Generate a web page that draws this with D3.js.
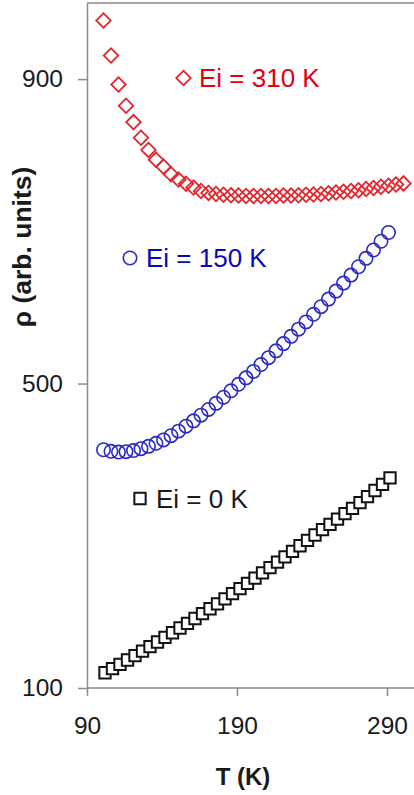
<!DOCTYPE html>
<html>
<head>
<meta charset="utf-8">
<script src="https://cdn.jsdelivr.net/npm/d3@7/dist/d3.min.js"></script>
<style>
  html, body { margin: 0; padding: 0; background: #fff; }
  svg { display: block; }
  text { font-family: Arial, "Liberation Sans", sans-serif; }
</style>
</head>
<body>
<svg id="chart" width="414" height="795"></svg>
<script>
// ---- data ----
const xTicks = [90, 190, 290];
const yTicks = [100, 500, 900];

const tRed = [101,106,111,116,121,126,131,136,141,146,151,156,161,166,171,176,181,186,191,196,201,206,211,216,221,226,231,236,241,246,251,256,261,266,271,276,281,286,291,296,301];
const rhoRed = [977,931,893,865,843.5,823,807,794,785,775,768,762.5,757.5,753,750.5,749,748,747.5,747,746.5,746.5,746.5,746.5,746.5,747,747,747.5,748,748.5,749,750,751,752,753,754,755.5,757,758.5,760,761.5,763];

const tBlue = [101,106,111,116,121,126,131,136,141,146,151,156,161,166,171,176,181,186,191,196,201,206,211,216,221,226,231,236,241,246,251,256,261,266,271,276,281,286,291];
const rhoBlue = [413,411,410,410.5,412,414.5,417.5,421.5,426,431.5,437.5,444,451,458.5,466,474,482,490.5,499,507.5,516,525,534,543,552.5,562,571.5,581,591,601,611,621.5,632,642.5,653.5,664.5,675.5,687,698.5];

const tBlack = [102,107,112,117,122,127,132,137,142,147,152,157,162,167,172,177,182,187,192,197,202,207,212,217,222,227,232,237,242,247,252,257,262,267,272,277,282,287,292];
const rhoBlack = [120,125.5,131,136.8,142.6,148.5,154.4,160.4,166.5,172.6,178.8,185,191.3,197.7,204.1,210.6,217.2,223.9,230.6,237.4,244.3,251.2,258.2,265.3,272.4,279.6,286.9,294,301,308,315,322,329,336,343.5,351.5,359.5,367.5,376];

const legendLabels = ["Ei = 310 K", "Ei = 150 K", "Ei = 0 K"];
const xTitle = "T (K)";
const yTitle = "ρ (arb. units)";

// ---- layout ----
const svg = d3.select("#chart");
const x = d3.scaleLinear().domain([90, 310]).range([87, 417]);
const y = d3.scaleLinear().domain([100, 1000]).range([688, 3]);
const axisColor = "#8a8a8a";

// frame top line
svg.append("line").attr("x1", x(90)).attr("x2", 414).attr("y1", y(1000)).attr("y2", y(1000))
  .attr("stroke", axisColor).attr("stroke-width", 1.5);

// axes
const gy = svg.append("g").attr("transform", `translate(${x(90)},0)`)
  .call(d3.axisLeft(y).tickValues(yTicks).tickSize(9).tickSizeOuter(0).tickPadding(15).tickFormat(d3.format("d")));
const gx = svg.append("g").attr("transform", `translate(0,${y(100)})`)
  .call(d3.axisBottom(x).tickValues(xTicks).tickSize(8).tickSizeOuter(0).tickPadding(21).tickFormat(d3.format("d")));
[gx, gy].forEach(g => {
  g.select(".domain").attr("stroke", axisColor).attr("stroke-width", 1.5);
  g.selectAll(".tick line").attr("stroke", axisColor).attr("stroke-width", 1.5);
  g.selectAll(".tick text").attr("fill", "#1a1a1a").style("font-size", "24.5px")
    .style("font-family", "Arial, 'Liberation Sans', sans-serif");
});
gx.select(".domain").attr("d", `M${x(90)},0H414`);

// axis titles
svg.append("text").attr("x", 243).attr("y", 785).attr("text-anchor", "middle")
  .style("font-size", "24px").style("font-weight", "bold").attr("fill", "#1a1a1a").text(xTitle);
svg.append("text").attr("transform", "translate(31,247) rotate(-90)").attr("text-anchor", "middle")
  .style("font-size", "26.5px").style("font-weight", "bold").attr("fill", "#1a1a1a").text(yTitle);

// series
const red = "#e3262e", blue = "#2a2ac6", black = "#111";
const diamond = d3.symbol(d3.symbolSquare, 105)();
const square = d3.symbol(d3.symbolSquare, 128)();

svg.append("g").selectAll("path").data(tRed.map((t, i) => [t, rhoRed[i]])).join("path")
  .attr("d", diamond).attr("transform", d => `translate(${x(d[0])},${y(d[1])}) rotate(45)`)
  .attr("fill", "none").attr("stroke", red).attr("stroke-width", 1.8);

svg.append("g").selectAll("circle").data(tBlue.map((t, i) => [t, rhoBlue[i]])).join("circle")
  .attr("cx", d => x(d[0])).attr("cy", d => y(d[1])).attr("r", 6.7)
  .attr("fill", "none").attr("stroke", blue).attr("stroke-width", 1.6);

svg.append("g").selectAll("path").data(tBlack.map((t, i) => [t, rhoBlack[i]])).join("path")
  .attr("d", square).attr("transform", d => `translate(${x(d[0])},${y(d[1])})`)
  .attr("fill", "#fff").attr("stroke", black).attr("stroke-width", 2);

// legends (in-plot labels)
const lg = svg.append("g").style("font-size", "26px");
lg.append("path").attr("d", diamond).attr("transform", "translate(183.5,78) rotate(45)")
  .attr("fill", "none").attr("stroke", red).attr("stroke-width", 1.8);
lg.append("text").attr("x", 199).attr("y", 78).attr("dy", "0.36em").attr("fill", "#e00010").text(legendLabels[0]);
lg.append("circle").attr("cx", 130).attr("cy", 258).attr("r", 6.7)
  .attr("fill", "none").attr("stroke", blue).attr("stroke-width", 1.6);
lg.append("text").attr("x", 146).attr("y", 258).attr("dy", "0.36em").attr("fill", "#0808b8").text(legendLabels[1]);
lg.append("path").attr("d", square).attr("transform", "translate(140,498.5)")
  .attr("fill", "none").attr("stroke", black).attr("stroke-width", 2);
lg.append("text").attr("x", 156).attr("y", 498.5).attr("dy", "0.36em").attr("fill", "#1a1a1a").text(legendLabels[2]);
</script>
</body>
</html>
